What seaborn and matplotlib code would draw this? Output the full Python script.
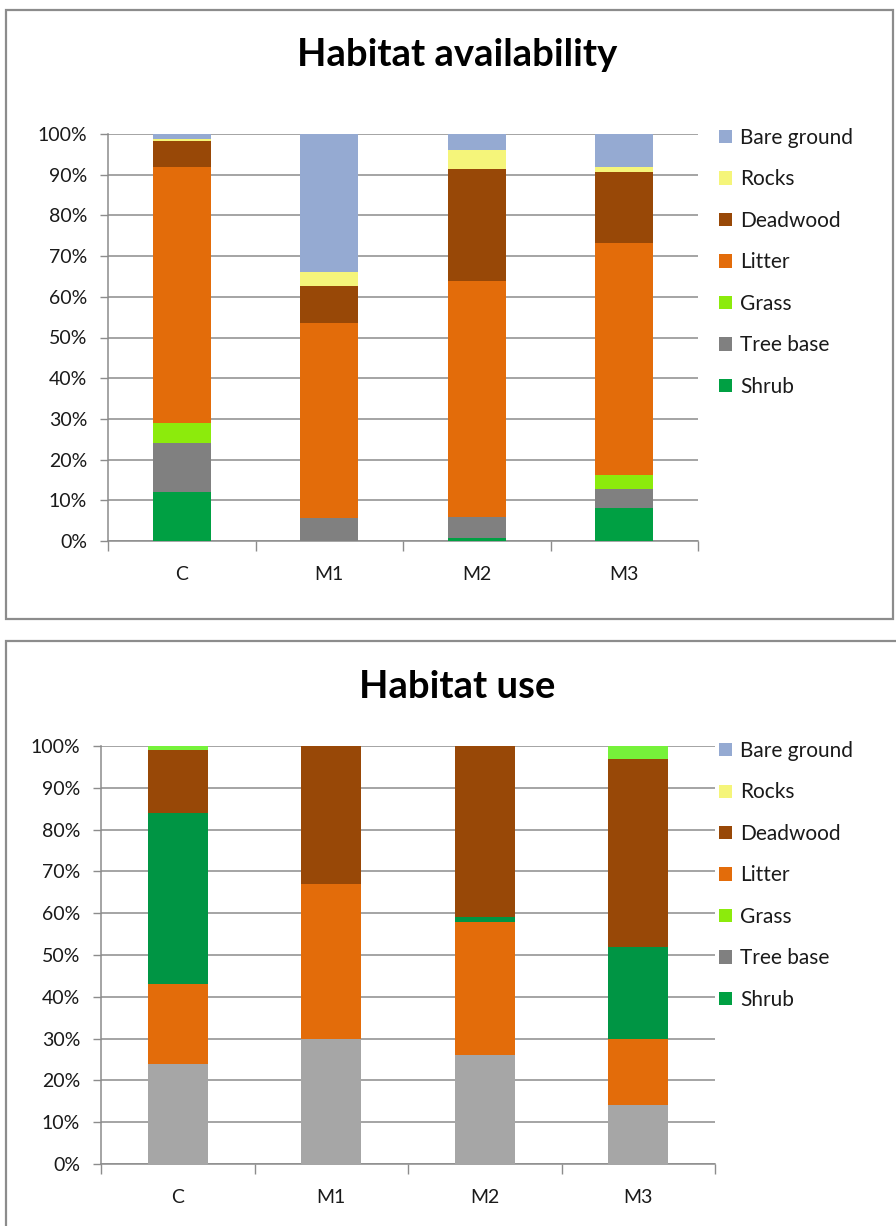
import numpy as np
import pandas as pd
import matplotlib
matplotlib.use("Agg")
import matplotlib.pyplot as plt
import seaborn as sns
from matplotlib.patches import Patch, Rectangle
from matplotlib.ticker import FuncFormatter

# ---------------- data ----------------
sites = ["C", "M1", "M2", "M3"]

legend_labels = ["Bare ground", "Rocks", "Deadwood", "Litter", "Grass", "Tree base", "Shrub"]
legend_colors = ["#95AAD2", "#F5F57A", "#984807", "#E36C0A", "#8CEB0C", "#808080", "#00A043"]

# Habitat availability (% per site), bottom -> top
avail_shrub = [12.0, 0.0, 0.7, 8.2]
avail_tree_base = [12.0, 5.7, 5.3, 4.5]
avail_grass = [5.1, 0.0, 0.0, 3.5]
avail_litter = [62.9, 47.9, 58.0, 56.9]
avail_deadwood = [6.4, 9.1, 27.5, 17.5]
avail_rocks = [0.3, 3.5, 4.5, 1.4]
avail_bare_ground = [1.3, 33.8, 4.0, 8.0]

# Habitat use (% per site), bottom -> top as stacked in the picture
use_tree_base = [24.0, 30.0, 26.0, 14.0]
use_litter = [19.0, 37.0, 32.0, 16.0]
use_shrub = [41.0, 0.0, 1.0, 22.0]
use_deadwood = [15.0, 33.0, 41.0, 45.0]
use_grass = [1.0, 0.0, 0.0, 3.0]

y_ticks = list(range(0, 101, 10))

# ---------------- style ----------------
sns.set_theme(style="white")
plt.rcParams["font.family"] = ["Lato", "DejaVu Sans"]

W, H = 896, 1226
fig = plt.figure(figsize=(W / 100, H / 100), dpi=100)

GRID = "#8C8C8C"
TXT = "#1A1A1A"


def px_axes(left, top, right, bottom):
    return fig.add_axes([left / W, 1 - bottom / H, (right - left) / W, (bottom - top) / H])


def stacked(ax, layers, colors):
    cum = np.zeros(len(sites))
    cums = []
    for vals in layers:
        cum = cum + np.asarray(vals, dtype=float)
        cums.append(cum.copy())
    for c, col in reversed(list(zip(cums, colors))):
        df = pd.DataFrame({"site": sites, "value": c})
        sns.barplot(data=df, x="site", y="value", color=col, saturation=1,
                    width=0.39, linewidth=0, ax=ax, zorder=3)


def style_axes(ax):
    ax.set_xlim(-0.5, 3.5)
    ax.set_ylim(0, 100)
    ax.set_yticks(y_ticks)
    ax.yaxis.set_major_formatter(FuncFormatter(lambda v, p: f"{int(v)}%"))
    ax.set_xlabel("")
    ax.set_ylabel("")
    ax.set_axisbelow(True)
    ax.yaxis.grid(True, color=GRID, lw=1.1)
    ax.xaxis.grid(False)
    for s in ["top", "right"]:
        ax.spines[s].set_visible(False)
    for s in ["left", "bottom"]:
        ax.spines[s].set_color(GRID)
        ax.spines[s].set_linewidth(1.1)
    ax.tick_params(axis="y", which="major", left=True, length=6, width=1,
                   color=GRID, labelsize=14, labelcolor=TXT, pad=9)
    ax.set_xticks([-0.5, 0.5, 1.5, 2.5, 3.5], minor=True)
    ax.tick_params(axis="x", which="minor", bottom=True, length=7, width=1, color=GRID)
    ax.tick_params(axis="x", which="major", bottom=False, labelsize=14,
                   labelcolor=TXT, pad=12)


def add_legend(ax, x, y):
    handles = [Patch(facecolor=c, edgecolor="none") for c in legend_colors]
    leg = ax.legend(handles, legend_labels, loc="upper left",
                    bbox_to_anchor=(x / W, 1 - y / H), bbox_transform=fig.transFigure,
                    frameon=False, fontsize=15, handlelength=0.6, handleheight=0.6,
                    handletextpad=0.4, labelspacing=1.03, borderpad=0, borderaxespad=0)
    for t in leg.get_texts():
        t.set_color(TXT)


# ---------------- frames ----------------
fig.add_artist(Rectangle((6 / W, 1 - 619 / H), (893 - 6) / W, (619 - 10) / H,
                         transform=fig.transFigure, fill=False, edgecolor="#8C8C8C", lw=1.6))
fig.add_artist(Rectangle((6 / W, -0.02), 1.0, 1 - 641 / H + 0.02,
                         transform=fig.transFigure, fill=False, edgecolor="#8C8C8C", lw=1.6))

# ---------------- top chart ----------------
ax1 = px_axes(108, 134, 698, 541)
stacked(ax1,
        [avail_shrub, avail_tree_base, avail_grass, avail_litter,
         avail_deadwood, avail_rocks, avail_bare_ground],
        ["#00A043", "#808080", "#8CEB0C", "#E36C0A", "#984807", "#F5F57A", "#95AAD2"])
style_axes(ax1)
add_legend(ax1, 719, 128)
fig.text(457 / W, 1 - 55 / H, "Habitat availability", ha="center", va="center",
         fontsize=27.5, fontweight="bold", color="black")

# ---------------- bottom chart ----------------
ax2 = px_axes(101, 746, 715, 1164)
stacked(ax2,
        [use_tree_base, use_litter, use_shrub, use_deadwood, use_grass],
        ["#A6A6A6", "#E36C0A", "#009544", "#984807", "#76F23A"])
style_axes(ax2)
add_legend(ax2, 719, 741)
fig.text(457 / W, 1 - 687 / H, "Habitat use", ha="center", va="center",
         fontsize=27.5, fontweight="bold", color="black")

fig.savefig("out.png", dpi=100)
